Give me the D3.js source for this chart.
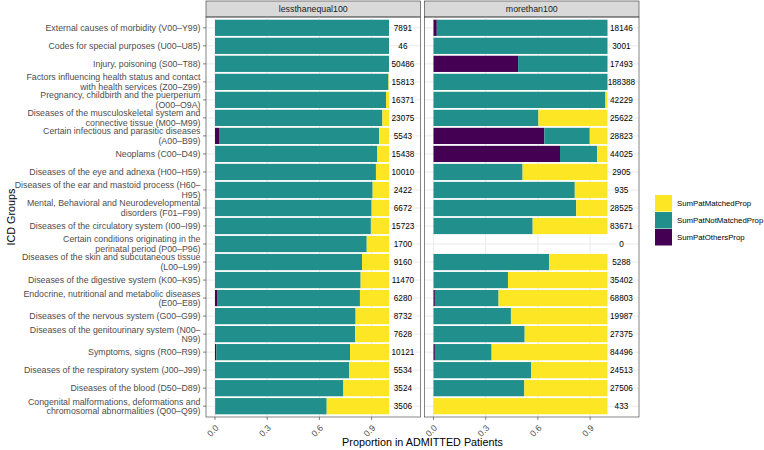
<!DOCTYPE html>
<html>
<head>
<meta charset="utf-8">
<script src="https://cdn.jsdelivr.net/npm/d3@7"></script>
<style>
  body { margin: 0; background: #fff; }
  svg { font-family: "Liberation Sans", Arial, sans-serif; }
</style>
</head>
<body>
<div id="chart"></div>
<script>
// ICD groups, top to bottom ("\n" marks a line break in the label)
const categories = [
    "External causes of morbidity (V00–Y99)",
    "Codes for special purposes (U00–U85)",
    "Injury, poisoning (S00–T88)",
    "Factors influencing health status and contact\nwith health services (Z00–Z99)",
    "Pregnancy, childbirth and the puerperium\n(O00–O9A)",
    "Diseases of the musculoskeletal system and\nconnective tissue (M00–M99)",
    "Certain infectious and parasitic diseases\n(A00–B99)",
    "Neoplams (C00–D49)",
    "Diseases of the eye and adnexa (H00–H59)",
    "Diseases of the ear and mastoid process (H60–\nH95)",
    "Mental, Behavioral and Neurodevelopmental\ndisorders (F01–F99)",
    "Diseases of the circulatory system (I00–I99)",
    "Certain conditions originating in the\nperinatal period (P00–P96)",
    "Diseases of the skin and subcutaneous tissue\n(L00–L99)",
    "Diseases of the digestive system (K00–K95)",
    "Endocrine, nutritional and metabolic diseases\n(E00–E89)",
    "Diseases of the nervous system (G00–G99)",
    "Diseases of the genitourinary system (N00–\nN99)",
    "Symptoms, signs (R00–R99)",
    "Diseases of the respiratory system (J00–J99)",
    "Diseases of the blood (D50–D89)",
    "Congenital malformations, deformations and\nchromosomal abnormalities (Q00–Q99)"
];

const panels = ["lessthanequal100", "morethan100"];
const seriesNames = ["SumPatOthersProp", "SumPatNotMatchedProp", "SumPatMatchedProp"];
const seriesColors = ["#440154", "#21908C", "#FDE725"];

// lessthanequal100
const lessOthers = [0, 0, 0, 0, 0, 0, 0.023, 0.003, 0, 0.003, 0, 0, 0, 0, 0, 0.015, 0, 0, 0.008, 0, 0, 0.002];
const lessNotMatched = [1, 1, 1, 0.997, 0.983, 0.962, 0.920, 0.930, 0.925, 0.903, 0.900, 0.896, 0.872, 0.845, 0.837, 0.818, 0.808, 0.805, 0.768, 0.772, 0.738, 0.640];
const lessMatched = [0, 0, 0, 0.003, 0.017, 0.038, 0.057, 0.067, 0.075, 0.094, 0.100, 0.104, 0.128, 0.155, 0.163, 0.167, 0.192, 0.195, 0.224, 0.228, 0.262, 0.358];
const lessCounts = [7891, 46, 50486, 15813, 16371, 23075, 5543, 15438, 10010, 2422, 6672, 15723, 1700, 9160, 11470, 6280, 8732, 7628, 10121, 5534, 3524, 3506];

// morethan100
const moreOthers = [0.019, 0, 0.486, 0, 0, 0, 0.637, 0.727, 0, 0, 0, 0, 0, 0, 0, 0.008, 0, 0, 0.008, 0, 0, 0];
const moreNotMatched = [0.981, 1, 0.514, 1, 0.988, 0.603, 0.261, 0.213, 0.512, 0.812, 0.820, 0.570, 0, 0.664, 0.428, 0.366, 0.445, 0.524, 0.326, 0.562, 0.522, 0];
const moreMatched = [0, 0, 0, 0, 0.012, 0.397, 0.102, 0.060, 0.488, 0.188, 0.180, 0.430, 0, 0.336, 0.572, 0.626, 0.555, 0.476, 0.666, 0.438, 0.478, 1];
const moreCounts = [18146, 3001, 17493, 188388, 42229, 25622, 28823, 44025, 2905, 935, 28525, 83671, 0, 5288, 35402, 68803, 19987, 27375, 84496, 24513, 27506, 433];

const xTicks = [0, 0.3, 0.6, 0.9];
const labelPos = 1.08;

const panelData = [
    { name: panels[0], series: [lessOthers, lessNotMatched, lessMatched], counts: lessCounts },
    { name: panels[1], series: [moreOthers, moreNotMatched, moreMatched], counts: moreCounts }
];

const width = 764, height = 450;
const panelTop = 17, panelBottom = 417, stripH = 16;
const panelLeft = [206, 424.5];
const panelW = 214.5;

const svg = d3.select('#chart').append('svg')
    .attr('width', width)
    .attr('height', height);

const y = d3.scalePoint()
    .domain(d3.range(categories.length))
    .range([panelTop, panelBottom])
    .padding(0.6);
const barH = y.step() * 0.9;

panelData.forEach(function (p, pi) {
    const x0 = panelLeft[pi];
    const x = d3.scaleLinear().domain([-0.0517, 1.181]).range([x0, x0 + panelW]);
    const g = svg.append('g');

    // strip
    g.append('rect')
        .attr('x', x0).attr('y', panelTop - stripH)
        .attr('width', panelW).attr('height', stripH)
        .attr('fill', '#D9D9D9').attr('stroke', '#333').attr('stroke-width', 0.6);
    g.append('text')
        .attr('x', x0 + panelW / 2).attr('y', panelTop - stripH / 2)
        .attr('dy', '0.35em')
        .attr('text-anchor', 'middle')
        .attr('font-size', 8.8).attr('fill', '#1a1a1a')
        .text(p.name);

    // grid
    g.selectAll('.vgrid').data(xTicks).enter().append('line')
        .attr('x1', d => x(d)).attr('x2', d => x(d))
        .attr('y1', panelTop).attr('y2', panelBottom)
        .attr('stroke', '#EBEBEB').attr('stroke-width', 1);
    g.selectAll('.hgrid').data(d3.range(categories.length)).enter().append('line')
        .attr('x1', x0).attr('x2', x0 + panelW)
        .attr('y1', d => y(d)).attr('y2', d => y(d))
        .attr('stroke', '#EBEBEB').attr('stroke-width', 1);

    // stacked bars
    const rows = d3.range(categories.length).map(function (i) {
        const r = {};
        seriesNames.forEach((s, si) => { r[s] = p.series[si][i]; });
        r.index = i;
        return r;
    });
    const stacked = d3.stack().keys(seriesNames)(rows);
    stacked.forEach(function (layer, li) {
        g.selectAll('.bar' + li).data(layer).enter().append('rect')
            .attr('x', d => x(d[0]))
            .attr('width', d => Math.max(0, x(d[1]) - x(d[0])))
            .attr('y', d => y(d.data.index) - barH / 2)
            .attr('height', barH)
            .attr('fill', seriesColors[li]);
    });

    // count labels
    g.selectAll('.count').data(p.counts).enter().append('text')
        .attr('x', x(labelPos))
        .attr('y', (d, i) => y(i))
        .attr('dy', '0.35em')
        .attr('text-anchor', 'middle')
        .attr('font-size', 8.2)
        .attr('fill', '#000')
        .text(d => d);

    // panel border
    g.append('rect')
        .attr('x', x0).attr('y', panelTop)
        .attr('width', panelW).attr('height', panelBottom - panelTop)
        .attr('fill', 'none').attr('stroke', '#333').attr('stroke-width', 0.6);

    // x axis ticks and labels
    g.selectAll('.xtick').data(xTicks).enter().append('line')
        .attr('x1', d => x(d)).attr('x2', d => x(d))
        .attr('y1', panelBottom).attr('y2', panelBottom + 3)
        .attr('stroke', '#333').attr('stroke-width', 0.6);
    g.selectAll('.xlab').data(xTicks).enter().append('text')
        .attr('transform', d => `translate(${x(d) + 4.3},${panelBottom + 11.5}) rotate(-45)`)
        .attr('text-anchor', 'end')
        .attr('font-size', 8.8)
        .attr('fill', '#4d4d4d')
        .text(d => d3.format('.1f')(d));
});

// y axis labels and ticks
const yAxis = svg.append('g');
yAxis.selectAll('.ytick').data(d3.range(categories.length)).enter().append('line')
    .attr('x1', panelLeft[0] - 3).attr('x2', panelLeft[0])
    .attr('y1', d => y(d)).attr('y2', d => y(d))
    .attr('stroke', '#333').attr('stroke-width', 0.6);
yAxis.selectAll('.ylab').data(categories).enter().append('text')
    .attr('text-anchor', 'end')
    .attr('font-size', 8.8)
    .attr('fill', '#4d4d4d')
    .each(function (d, i) {
        const lines = d.split('\n');
        const lh = 9.3;
        const start = -(lines.length - 1) * lh / 2;
        lines.forEach((ln, li) => {
            d3.select(this).append('tspan')
                .attr('x', panelLeft[0] - 5.5)
                .attr('y', y(i) + start + li * lh)
                .attr('dy', '0.35em')
                .text(ln);
        });
    });

// axis titles
svg.append('text')
    .attr('x', (panelLeft[0] + panelLeft[1] + panelW) / 2)
    .attr('y', 446)
    .attr('text-anchor', 'middle')
    .attr('font-size', 10.8)
    .attr('fill', '#000')
    .text('Proportion in ADMITTED Patients');
svg.append('text')
    .attr('transform', `translate(15,${(panelTop + panelBottom) / 2}) rotate(-90)`)
    .attr('text-anchor', 'middle')
    .attr('font-size', 10.8)
    .attr('fill', '#000')
    .text('ICD Groups');

// legend (reverse of stacking order)
const legendOrder = [2, 1, 0];
const legend = svg.append('g').attr('transform', 'translate(655,195)');
legendOrder.forEach(function (si, k) {
    legend.append('rect')
        .attr('x', 0).attr('y', k * 17)
        .attr('width', 17).attr('height', 16.5)
        .attr('fill', seriesColors[si]);
    legend.append('text')
        .attr('x', 22).attr('y', k * 17 + 8.5)
        .attr('dy', '0.35em')
        .attr('font-size', 7.8)
        .attr('fill', '#000')
        .text(seriesNames[si]);
});
</script>
</body>
</html>
